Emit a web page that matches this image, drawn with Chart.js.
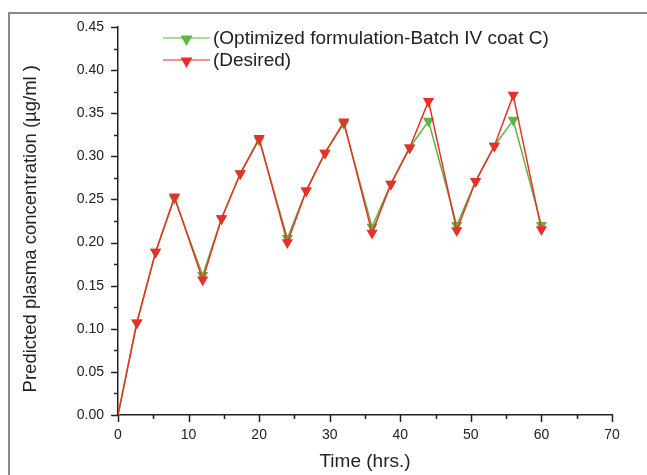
<!DOCTYPE html>
<html>
<head>
<meta charset="utf-8">
<script src="https://cdn.jsdelivr.net/npm/chart.js@4/dist/chart.umd.min.js"></script>
<style>
  body { margin: 0; background: #fff; }
  #wrap { position: relative; width: 647px; height: 475px; overflow: hidden; }
  #frame { position: absolute; left: 8px; top: 12px; width: 700px; height: 500px;
           border-top: 2px solid #8a8a8a; border-left: 2px solid #8a8a8a; }
  canvas { position: absolute; left: 0; top: 0; }
</style>
</head>
<body>
<div id="wrap">
  <div id="frame"></div>
  <canvas id="pk-chart" width="647" height="475"></canvas>
</div>
<script>
const hours = [0, 2.67, 5.33, 8, 12, 14.67, 17.33, 20, 24, 26.67, 29.33, 32, 36, 38.67, 41.33, 44, 48, 50.67, 53.33, 56, 60];
const optimized = [0, 0.107, 0.189, 0.251, 0.162, 0.228, 0.280, 0.319, 0.205, 0.260, 0.304, 0.338, 0.218, 0.268, 0.310, 0.341, 0.220, 0.271, 0.312, 0.342, 0.220];
const desired = [0, 0.107, 0.189, 0.253, 0.157, 0.228, 0.280, 0.321, 0.200, 0.260, 0.304, 0.340, 0.211, 0.268, 0.310, 0.364, 0.214, 0.271, 0.312, 0.371, 0.215];
const seriesNames = ["(Optimized formulation-Batch IV coat C)", "(Desired)"];
const seriesColors = ["#5cb646", "#e8302a"];

const ink = "#222";
const fontFamily = "Arial, 'Liberation Sans', sans-serif";

function toPoints(ys) {
  return hours.map((h, i) => ({ x: h, y: ys[i] }));
}

// outward major + minor ticks like the original plot
const tickMarks = {
  id: "tickMarks",
  afterDraw(chart) {
    const { ctx, scales: { x, y } } = chart;
    ctx.save();
    ctx.strokeStyle = ink;
    ctx.lineWidth = 1.5;
    ctx.beginPath();
    for (let v = 0; v <= 70.001; v += 5) {
      const px = Math.round(x.getPixelForValue(v)) + 0.5;
      const len = v % 10 === 0 ? 7 : 4;
      ctx.moveTo(px, y.bottom);
      ctx.lineTo(px, y.bottom + len);
    }
    for (let k = 0; k <= 18; k++) {
      const py = Math.round(y.getPixelForValue(k * 0.025)) + 0.5;
      const len = k % 2 === 0 ? 7 : 4;
      ctx.moveTo(x.left, py);
      ctx.lineTo(x.left - len, py);
    }
    ctx.stroke();
    ctx.restore();
  }
};

// legend drawn inside the plot, top left: line + marker + label
const lineLegend = {
  id: "lineLegend",
  afterDraw(chart) {
    const { ctx } = chart;
    const x0 = 163, x1 = 210, top = 38, gap = 22;
    ctx.save();
    ctx.font = "19px " + fontFamily;
    ctx.textBaseline = "middle";
    seriesNames.forEach((name, i) => {
      const yy = top + i * gap;
      ctx.strokeStyle = seriesColors[i];
      ctx.globalAlpha = 0.7;
      ctx.lineWidth = 1.5;
      ctx.beginPath();
      ctx.moveTo(x0, yy);
      ctx.lineTo(x1, yy);
      ctx.stroke();
      ctx.globalAlpha = 1;
      ctx.fillStyle = seriesColors[i];
      Chart.helpers.drawPoint(ctx, { pointStyle: "triangle", radius: 7, rotation: 180, borderWidth: 0 }, (x0 + x1) / 2, yy + 1);
      ctx.fillStyle = ink;
      ctx.fillText(name, 213, yy + 1);
    });
    ctx.restore();
  }
};

function makeSet(label, ys, color, order) {
  return {
    label,
    data: toPoints(ys),
    borderColor: color,
    backgroundColor: color,
    borderWidth: 1.5,
    pointStyle: "triangle",
    rotation: 180,
    pointRadius: (c) => (c.raw && c.raw.y === 0 ? 2 : 6.5),
    pointBorderWidth: 0,
    order
  };
}

new Chart("pk-chart", {
  type: "line",
  data: {
    datasets: [
      makeSet(seriesNames[1], desired, seriesColors[1], 0),
      makeSet(seriesNames[0], optimized, seriesColors[0], 1)
    ]
  },
  options: {
    responsive: false,
    animation: false,
    layout: { padding: { left: 0, top: 27, right: 35, bottom: 0 } },
    plugins: { legend: { display: false }, tooltip: { enabled: false } },
    scales: {
      x: {
        type: "linear",
        min: 0,
        max: 70,
        afterFit: (s) => { s.height = 60; },
        grid: { display: false, drawTicks: false },
        border: { display: true, color: ink, width: 1.5 },
        ticks: { stepSize: 10, padding: 12, color: ink, font: { size: 14, family: fontFamily } },
        title: { display: true, text: "Time (hrs.)", color: ink, padding: { top: 0, bottom: 2 }, font: { size: 19, family: fontFamily } }
      },
      y: {
        min: 0,
        max: 0.45,
        afterFit: (s) => { s.width = 118; },
        grid: { display: false, drawTicks: false },
        border: { display: true, color: ink, width: 1.5 },
        ticks: { stepSize: 0.05, padding: 14, color: ink, font: { size: 14, family: fontFamily },
                 callback: (v) => v.toFixed(2) },
        // trailing spaces nudge the rotated title down a little, as in the original
        title: { display: true, text: "Predicted plasma concentration (µg/ml )   ", color: ink,
                 padding: { top: 20, bottom: 0 }, font: { size: 18.5, family: fontFamily } }
      }
    }
  },
  plugins: [tickMarks, lineLegend]
});
</script>
</body>
</html>
